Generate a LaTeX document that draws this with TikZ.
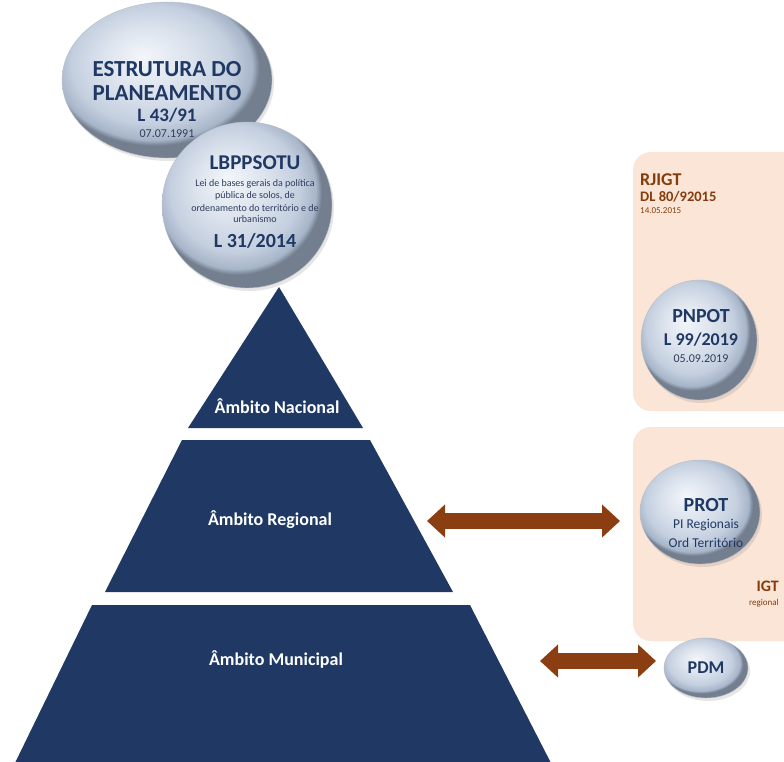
\documentclass[tikz,border=0pt]{standalone}
\usepackage{fontspec}
\setmainfont{Carlito}
\usetikzlibrary{shapes.geometric,shadows,arrows.meta}

\definecolor{navy}{HTML}{203864}
\definecolor{peach}{HTML}{FBE5D6}
\definecolor{rust}{HTML}{843C0C}
\definecolor{arrowbrown}{HTML}{8B3E12}
\definecolor{ovA}{HTML}{F3F6FA}
\definecolor{ovB}{HTML}{DDE4EE}
\definecolor{ovC}{HTML}{C4CFDF}
\definecolor{ovD}{HTML}{A7B5C9}
\definecolor{ovE}{HTML}{737E8F}
\definecolor{datecol}{HTML}{2E3D5C}

% glassy oval fill, highlight towards the upper left, dark rim
\pgfdeclareradialshading{ovalglass}{\pgfpoint{-6bp}{8bp}}{%
  color(0bp)=(ovA); color(10bp)=(ovB); color(19bp)=(ovC);
  color(23.5bp)=(ovD); color(25bp)=(ovE); color(50bp)=(ovE)}

\newcommand{\fsz}[1]{\fontsize{#1}{#1}\selectfont}

\tikzset{
  oval/.style={ellipse, shading=ovalglass, inner sep=0pt,
    draw=ovE!50, line width=0.4pt,
    drop shadow={shadow xshift=2pt, shadow yshift=-3pt, opacity=0.2}},
  ovaltext/.style={text=navy, inner sep=0pt},
  datetext/.style={text=datecol, inner sep=0pt},
  band/.style={fill=navy},
  bandlabel/.style={text=white, font=\bfseries\fsz{18}},
  panel/.style={fill=peach, rounded corners=18pt},
  rusttext/.style={text=rust, inner sep=0pt},
  blockarrow/.style={draw=arrowbrown, line width=16pt,
    {Triangle[width=32pt,length=18pt]}-{Triangle[width=32pt,length=18pt]}},
}

\begin{document}
\begin{tikzpicture}[x=1pt, y=-1pt]
\path[use as bounding box] (0,0) rectangle (784,762);
\clip (0,0) rectangle (784,762);

% side panels
\path[panel] (633,152) rectangle (810,411);
\path[panel] (633,427) rectangle (810,641);

% pyramid levels
\fill[band] (279,287) -- (363,428) -- (188,428) -- cycle;
\fill[band] (182,440) -- (370,440) -- (453,592) -- (105,592) -- cycle;
\fill[band] (92,605) -- (470,605) -- (552,765) -- (14,765) -- cycle;
\node[bandlabel] (nac) at (277,406) {Âmbito Nacional};
\node[bandlabel] (reg) at (270,520) {Âmbito Regional};
\node[bandlabel] (mun) at (276,660) {Âmbito Municipal};

% top ovals
\node[oval, minimum width=210pt, minimum height=156pt] (e1) at (167,80) {};
\node[ovaltext, font=\bfseries\fsz{23}] (e1a) at (167,69) {ESTRUTURA DO};
\node[ovaltext, font=\bfseries\fsz{23}] (e1b) at (167,93) {PLANEAMENTO};
\node[ovaltext, font=\bfseries\fsz{19}] (e1c) at (167,115) {L 43/91};
\node[datetext, font=\fsz{12}] (e1d) at (167,134) {07.07.1991};

\node[oval, minimum width=170pt, minimum height=166pt] (e2) at (247,205) {};
\node[ovaltext, font=\bfseries\fsz{21}] (e2a) at (255,163) {LBPPSOTU};
\node[datetext, font=\fsz{10}] (e2b) at (255,184) {Lei de bases gerais da política};
\node[datetext, font=\fsz{10}] (e2c) at (255,196) {pública de solos, de};
\node[datetext, font=\fsz{10}] (e2d) at (255,208) {ordenamento do território e de};
\node[datetext, font=\fsz{10}] (e2e) at (255,219) {urbanismo};
\node[ovaltext, font=\bfseries\fsz{20}] (e2f) at (255,241) {L 31/2014};

% right column
\node[rusttext, anchor=west, font=\bfseries\fsz{18}] (rj1) at (640,180) {RJIGT};
\node[rusttext, anchor=west, font=\bfseries\fsz{14.5}] (rj2) at (640,197) {DL 80/92015};
\node[rusttext, anchor=west, font=\fsz{9}] (rj3) at (640,211) {14.05.2015};

\node[oval, minimum width=116pt, minimum height=120pt] (pnpot) at (699,340) {};
\node[ovaltext, font=\bfseries\fsz{20}] (pn1) at (701,316) {PNPOT};
\node[ovaltext, font=\bfseries\fsz{18}] (pn2) at (701,340) {L 99/2019};
\node[datetext, font=\fsz{12}] (pn3) at (701,359) {05.09.2019};

\node[oval, minimum width=120pt, minimum height=104pt] (prot) at (700,512) {};
\node[ovaltext, font=\bfseries\fsz{20}] (pr1) at (706,505) {PROT};
\node[ovaltext, font=\fsz{13.5}] (pr2) at (706,525) {PI Regionais};
\node[ovaltext, font=\fsz{13.5}] (pr3) at (706,543) {Ord Território};

\node[rusttext, anchor=east, font=\bfseries\fsz{16}] (igt1) at (779,586) {IGT};
\node[rusttext, anchor=east, font=\fsz{9}] (igt2) at (779,603) {regional};

\node[oval, minimum width=84pt, minimum height=60pt] (pdm) at (706,668) {};
\node[ovaltext, font=\bfseries\fsz{18}] (pdmt) at (706,668) {PDM};

% links between the levels and their plans
\coordinate (regR) at (427,521);
\coordinate (protL) at (620,521);
\coordinate (munR) at (540,661);
\coordinate (pdmL) at (656,661);
\draw[blockarrow] (regR) -- (protL);
\draw[blockarrow] (munR) -- (pdmL);
\end{tikzpicture}
\end{document}
